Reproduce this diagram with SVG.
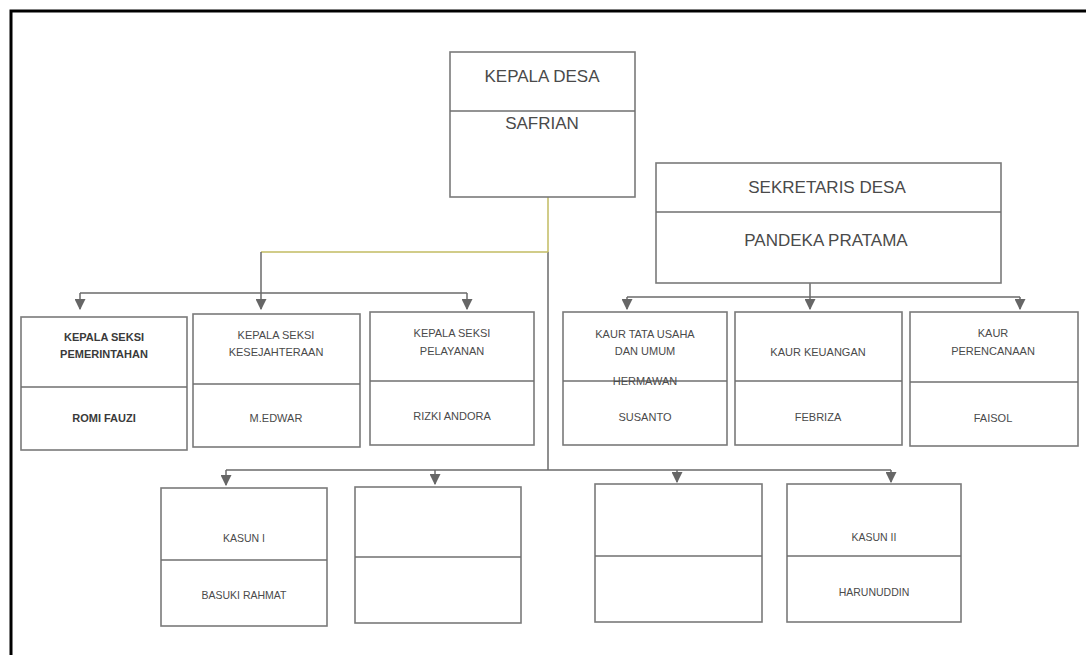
<svg xmlns="http://www.w3.org/2000/svg" width="1086" height="655" viewBox="0 0 1086 655">
<defs>
<marker id="arr" viewBox="0 0 10 10" refX="9" refY="5" markerWidth="11" markerHeight="11" markerUnits="userSpaceOnUse" orient="auto">
<path d="M0,0 L10,5 L0,10 z" fill="#666"/>
</marker>
</defs>
<style>
.box{fill:#fff;stroke:#7a7a7a;stroke-width:1.6}
.div{stroke:#6f6f6f;stroke-width:1.6}
.t{font-family:"Liberation Sans",Arial,sans-serif;fill:#4a4a4a;text-anchor:middle;dominant-baseline:central}
.big{font-size:17px}
.mid{font-size:11px}
.sm{font-size:10.5px}
.bold{font-weight:bold;fill:#3a3a3a}
.ln{fill:none;stroke:#6a6a6a;stroke-width:1.5}
.yl{fill:none;stroke:#c2bb62;stroke-width:1.5}
.ar{fill:none;stroke:#6a6a6a;stroke-width:1.5;marker-end:url(#arr)}
</style>
<rect x="0" y="0" width="1086" height="655" fill="#fff"/>
<path d="M11 655 V11 H1086" fill="none" stroke="#000" stroke-width="3"/>

<g id="connectors">
<path class="yl" d="M548 197 V252"/>
<path class="ln" d="M548 252 V470"/>
<path class="yl" d="M548 252 H261"/>
<path class="ln" d="M261 252 V293"/>
<path class="ln" d="M80 293 H467"/>
<path class="ar" d="M80 293 V309"/>
<path class="ar" d="M261 293 V309"/>
<path class="ar" d="M467 293 V309"/>
<path class="ln" d="M810 283 V297"/>
<path class="ln" d="M627 297 H1020"/>
<path class="ar" d="M627 297 V309"/>
<path class="ar" d="M810 297 V309"/>
<path class="ar" d="M1020 297 V309"/>
<path class="ln" d="M226 470 H891"/>
<path class="ar" d="M226 470 V485"/>
<path class="ar" d="M435 470 V484"/>
<path class="ar" d="M677 470 V482"/>
<path class="ar" d="M891 470 V482"/>
</g>

<g id="kepala-desa">
<rect class="box" x="450" y="52" width="185" height="145"/>
<line class="div" x1="450" y1="111" x2="635" y2="111"/>
<text class="t big" x="542" y="76">KEPALA DESA</text>
<text class="t big" x="542" y="123">SAFRIAN</text>
</g>

<g id="sekretaris-desa">
<rect class="box" x="656" y="163" width="345" height="120"/>
<line class="div" x1="656" y1="212" x2="1001" y2="212"/>
<text class="t big" x="827" y="187">SEKRETARIS DESA</text>
<text class="t big" x="826" y="240">PANDEKA PRATAMA</text>
</g>

<g id="kasi-pemerintahan">
<rect class="box" x="21" y="317" width="166" height="133"/>
<line class="div" x1="21" y1="387" x2="187" y2="387"/>
<text class="t mid bold" x="104" y="337">KEPALA SEKSI</text>
<text class="t mid bold" x="104" y="354">PEMERINTAHAN</text>
<text class="t mid bold" x="104" y="418">ROMI FAUZI</text>
</g>

<g id="kasi-kesejahteraan">
<rect class="box" x="193" y="314" width="167" height="133"/>
<line class="div" x1="193" y1="384" x2="360" y2="384"/>
<text class="t mid" x="276" y="335">KEPALA SEKSI</text>
<text class="t mid" x="276" y="352">KESEJAHTERAAN</text>
<text class="t mid" x="276" y="418">M.EDWAR</text>
</g>

<g id="kasi-pelayanan">
<rect class="box" x="370" y="312" width="164" height="133"/>
<line class="div" x1="370" y1="381" x2="534" y2="381"/>
<text class="t mid" x="452" y="333">KEPALA SEKSI</text>
<text class="t mid" x="452" y="351">PELAYANAN</text>
<text class="t mid" x="452" y="416">RIZKI ANDORA</text>
</g>

<g id="kaur-tu">
<rect class="box" x="563" y="312" width="164" height="133"/>
<line class="div" x1="563" y1="381" x2="727" y2="381"/>
<text class="t mid" x="645" y="334">KAUR TATA USAHA</text>
<text class="t mid" x="645" y="351">DAN UMUM</text>
<text class="t mid" x="645" y="381">HERMAWAN</text>
<text class="t mid" x="645" y="417">SUSANTO</text>
</g>

<g id="kaur-keuangan">
<rect class="box" x="735" y="312" width="167" height="133"/>
<line class="div" x1="735" y1="381" x2="902" y2="381"/>
<text class="t mid" x="818" y="352">KAUR KEUANGAN</text>
<text class="t mid" x="818" y="417">FEBRIZA</text>
</g>

<g id="kaur-perencanaan">
<rect class="box" x="910" y="312" width="168" height="134"/>
<line class="div" x1="910" y1="382" x2="1078" y2="382"/>
<text class="t mid" x="993" y="333">KAUR</text>
<text class="t mid" x="993" y="351">PERENCANAAN</text>
<text class="t mid" x="993" y="418">FAISOL</text>
</g>

<g id="kasun-1">
<rect class="box" x="161" y="488" width="166" height="138"/>
<line class="div" x1="161" y1="560" x2="327" y2="560"/>
<text class="t sm" x="244" y="538">KASUN I</text>
<text class="t sm" x="244" y="595">BASUKI RAHMAT</text>
</g>

<g id="kasun-blank-1">
<rect class="box" x="355" y="487" width="166" height="136"/>
<line class="div" x1="355" y1="557" x2="521" y2="557"/>
</g>

<g id="kasun-blank-2">
<rect class="box" x="595" y="484" width="167" height="138"/>
<line class="div" x1="595" y1="556" x2="762" y2="556"/>
</g>

<g id="kasun-2">
<rect class="box" x="787" y="484" width="174" height="138"/>
<line class="div" x1="787" y1="556" x2="961" y2="556"/>
<text class="t sm" x="874" y="537">KASUN II</text>
<text class="t sm" x="874" y="592">HARUNUDDIN</text>
</g>
</svg>
